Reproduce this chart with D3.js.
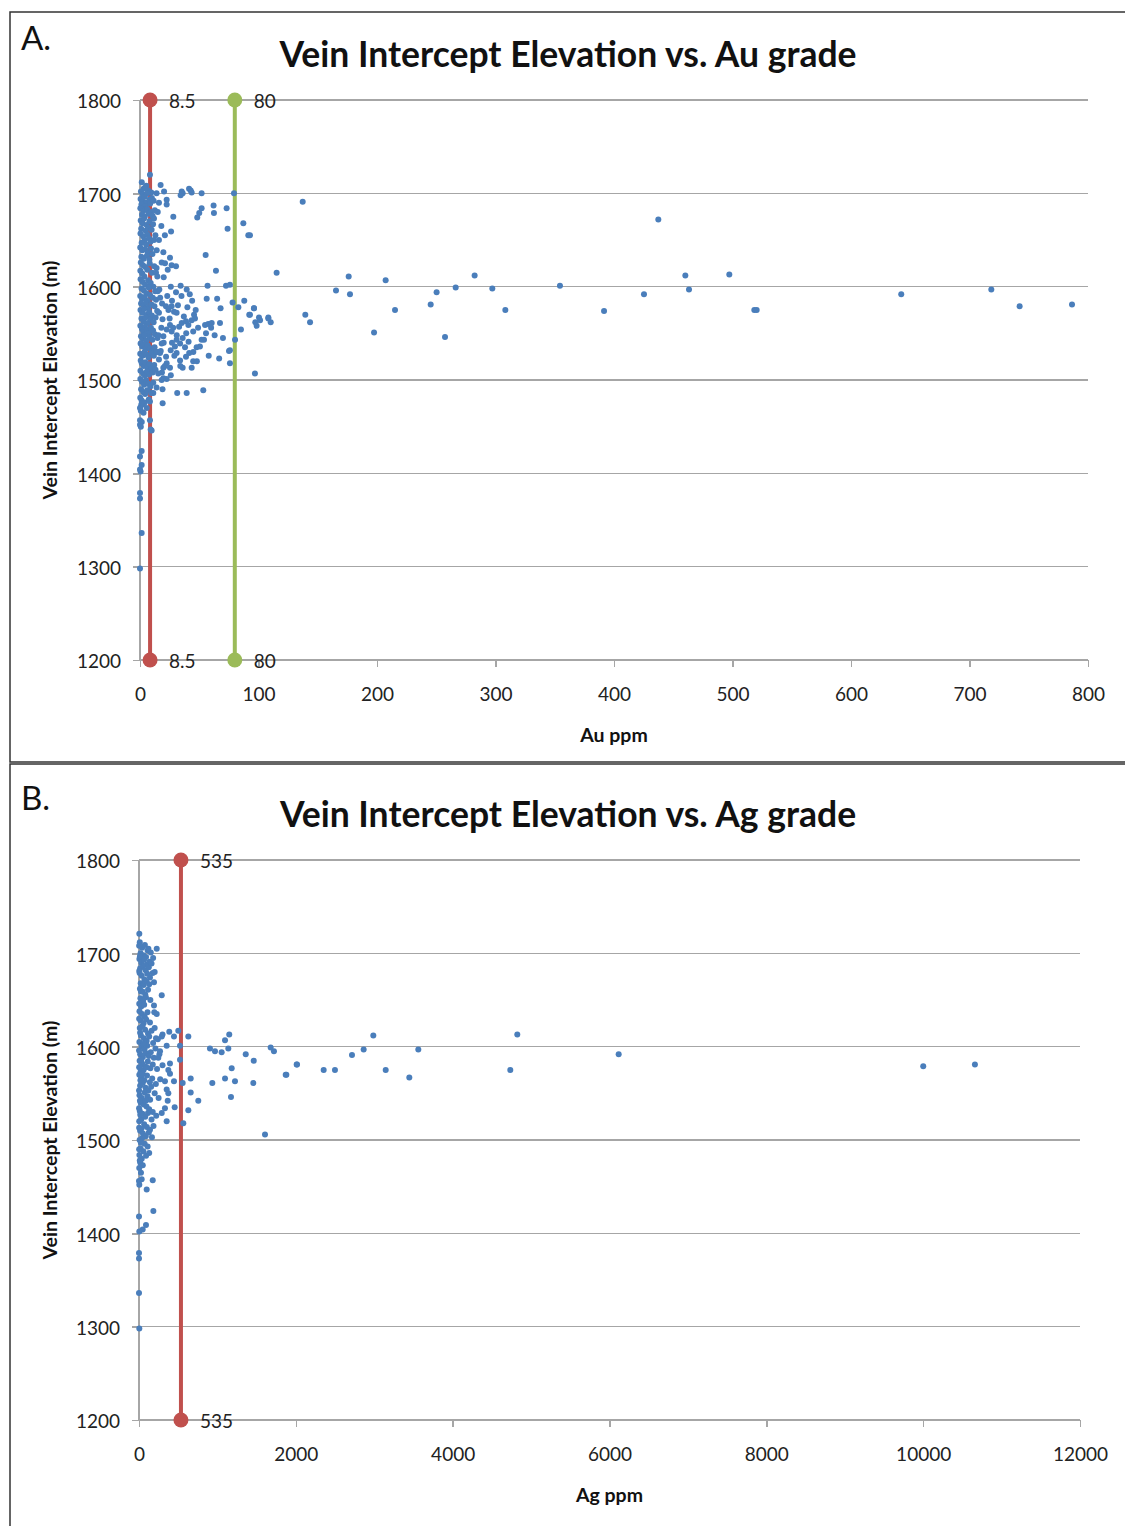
<!doctype html>
<html>
<head>
<meta charset="utf-8">
<title>Vein Intercept Elevation vs. grade</title>
<script src="https://d3js.org/d3.v7.min.js"></script>
<style>
    body {margin:0; background:#fff;}
    svg {display:block; font-family:Lato, "Open Sans", sans-serif;}
    .grid line {stroke:#a6a6a6; stroke-width:1.4px; shape-rendering:crispEdges;}
    .axis path, .axis line {stroke:#a6a6a6; stroke-width:1.4px; fill:none; shape-rendering:crispEdges;}
    .axis text {font-size:19px; fill:#222; font-family:Lato, sans-serif;}
    .dot {fill:#4a7ebb;}
    .title {font-size:35.5px; font-weight:bold; text-anchor:middle; fill:#111;}
    .atitle {font-size:19.5px; font-weight:bold; text-anchor:middle; fill:#111;}
    .panel {font-size:33px; fill:#111;}
    .cut-label {font-size:19px; fill:#222;}
</style>
</head>
<body>
<script>
"use strict";

// tick values
var elevTicks = [1200, 1300, 1400, 1500, 1600, 1700, 1800];
var auTicks = [0, 100, 200, 300, 400, 500, 600, 700, 800];
var agTicks = [0, 2000, 4000, 6000, 8000, 10000, 12000];

// cut-off grades drawn as vertical lines
var auCutoffs = [8.5, 80];
var agCutoffs = [535];

// Au ppm vs elevation (m) - dense low-grade column
var auCore = [
    [1.5,1712],[3,1705],[5.2,1708],[0.8,1702],[7,1703],[2.4,1699],[9.5,1701],[4.1,1697],[6.3,1700],
    [0.5,1694],[2,1691],[3.6,1696],[5,1690],[7.8,1693],[10,1695],[1.2,1688],[4.5,1686],[8.6,1689],[11.5,1692],
    [0.3,1684],[2.8,1681],[6,1683],[9,1680],[1.7,1677],[4,1675],[7.2,1678],[12.5,1682],[10.6,1676],
    [0.6,1671],[2.2,1668],[3.4,1673],[5.6,1666],[8,1670],[11,1667],[1,1662],[4.8,1660],[6.8,1663],[9.8,1661],
    [0.4,1657],[2.6,1654],[3.9,1650],[6.2,1656],[7.6,1652],[13,1655],[1.4,1647],[5.3,1645],[8.8,1648],[11.8,1650],
    [0.2,1642],[2,1639],[4.3,1640],[6.6,1636],[9.3,1641],[10.5,1635],[1.1,1632],[3.1,1630],[5.8,1633],[7.9,1629],
    [0.7,1626],[2.5,1623],[4.6,1621],[8.2,1625],[12,1622],[0.3,1617],[1.9,1614],[3.7,1611],[6.1,1618],[10.2,1615],[14,1620],
    [0.5,1608],[2.3,1605],[4.4,1602],[6.9,1607],[9,1604],[11.3,1600],[1.3,1598],[3.2,1596],[5.5,1593],[7.4,1599],[12.8,1595],
    [0.2,1590],[1.8,1587],[4,1589],[6.4,1585],[8.5,1591],[10.8,1588],[13.5,1586],[0.9,1582],[2.9,1580],[5.1,1583],[7.1,1578],[9.6,1581],[12.2,1579],
    [0.4,1575],[2.1,1572],[3.5,1576],[5.9,1570],[7.7,1573],[10,1569],[14.5,1574],[1.2,1566],[3,1563],[4.7,1567],[6.6,1561],[8.9,1565],[11.5,1562],[13.2,1567],
    [0.3,1558],[1.6,1555],[2.7,1552],[4.2,1557],[6,1554],[7.5,1550],[9.2,1556],[11,1553],[12.6,1549],[0.8,1547],[2.4,1544],[3.9,1548],[5.4,1542],[8.1,1546],[10.4,1543],[14.8,1545],
    [0.5,1539],[1.9,1536],[3.3,1538],[4.9,1533],[6.5,1537],[8.4,1534],[10.1,1531],[12.3,1535],[0.2,1528],[2.2,1526],[3.8,1530],[5.6,1527],[7.2,1524],[9.7,1529],[11.7,1526],[13.8,1530],
    [0.6,1521],[1.5,1518],[3.1,1515],[4.5,1519],[6.3,1514],[8,1517],[9.9,1512],[12,1516],[0.4,1510],[2.6,1507],[4.1,1505],[5.8,1509],[7.6,1506],[10.7,1508],[13.1,1511],
    [0.3,1501],[1.7,1498],[3.4,1495],[5.1,1500],[6.8,1496],[8.7,1493],[11.2,1497],[0.9,1490],[2.8,1487],[4.4,1485],[6,1489],[9.4,1486],
    [0.2,1481],[1.4,1478],[2.6,1474],[4,1476],[5.7,1470],[0.7,1467],[3,1465],[7.4,1479]
];

// Au ppm vs elevation (m) - scattered points
var auScatter = [
    [8.4,1720],[4.2,1706],[17.4,1709],[20.3,1702],[22.5,1693],[22.5,1688],[11.8,1673],[28.1,1675],[26.2,1659],
    [35.2,1702],[36,1700],[34.3,1698],[41.4,1705],[42.8,1703],[43.6,1701],[52,1700],[52,1684],[50,1679],[48.3,1674],
    [62.1,1687],[62.4,1679],[73.1,1684],[79.3,1700],[73.9,1662],[87.2,1668],[91.4,1655],
    [14.1,1639],[19.7,1637],[18.3,1626],[21.1,1625],[25.3,1631],[26.7,1623],[30.4,1622],[23.4,1618],[55.4,1634],[64.1,1617],
    [13.5,1615],[14.6,1611],[16.3,1597],[34.3,1601],[39.4,1597],[30.4,1594],[57,1601],[72.6,1601],[75.9,1602],
    [56.3,1587],[65.1,1587],[78.1,1583],[88,1585],[83,1578],[96.2,1577],[80.2,1543],[92.2,1570],[100.4,1567],
    [108.3,1567],[110.3,1562],[97.3,1562],[18.6,1582],[21.9,1579],[26.7,1579],[28.7,1573],[30.9,1572],
    [45.6,1570],[46.4,1566],[43.6,1564],[35.2,1561],[38.8,1563],[40.8,1559],[25.3,1559],[22.5,1554],[26.7,1552],[44.9,1552],
    [54.9,1559],[57.6,1560],[60.5,1561],[55.7,1550],[54,1543],[50.6,1536],[47.8,1535],
    [30.9,1543],[33.8,1539],[29.5,1536],[25.9,1532],[19.7,1547],[18.3,1539],[16.9,1529],
    [41.5,1529],[44.9,1520],[43.6,1513],[38.8,1525],[33.8,1521],[30.9,1529],[22.5,1518],[25.3,1513],[19.7,1513],[36,1513],
    [66.8,1523],[75.9,1518],[75.1,1531],[15.4,1507],[19.7,1502],[18.3,1500],[22.5,1501],[31.4,1486],[39.4,1486],[53.4,1489],
    [19.1,1475],[11.2,1486],[97,1507],[85.2,1554],[75.9,1532],[67.5,1561],
    [15,1595],[17,1588],[16,1572],[19,1565],[18,1556],[15.5,1548],[20,1540],[17.5,1531],[16,1522],[21,1515],[18.5,1508],
    [23,1590],[24,1575],[27,1585],[25,1566],[28,1556],[31,1548],[33,1557],[36,1545],[29,1526],[34,1515],[38,1535],
    [41,1541],[37,1568],[40,1578],[47,1575],[49,1556],[52,1543],[45,1530],[48,1520],[60,1556],[63,1548],[58,1526],
    [70,1545],[68,1577],[20,1610],[26,1600],[35,1590],[32,1580],[42,1592],[44,1585],[15,1530],[22,1525],[26,1505],
    [14,1492],[19,1490],[27,1540],[39,1550],[16,1650],[18,1665],[15,1680],[21,1655],[14,1700],[16,1690],
    [8.4,1477],[1,1473],[1.5,1475],[0,1470],[8.4,1457],[9,1447],[9.8,1446],[0,1457],[1.5,1455],[0,1452],[0.7,1450],
    [1.4,1424],[0,1418],[1.4,1409],[0,1404],[0.5,1402],[0,1379],[0,1373],[1.4,1336],[0,1298]
];

// Au ppm vs elevation (m) - high-grade tail
var auTail = [
    [92.8,1655],[137.3,1691],[115.3,1615],[96.2,1577],[92.8,1570],[98.4,1558],[101.3,1564],[108.3,1566],
    [139.5,1570],[143.5,1562],[165.4,1596],[176.1,1611],[177.2,1592],[197.5,1551],[207.3,1607],[215.2,1575],
    [245.3,1581],[250.3,1594],[257.4,1546],[266.4,1599],[282.4,1612],[297.3,1598],[308.3,1575],[354.4,1601],
    [391.6,1574],[425.3,1592],[437.4,1672],[460.2,1612],[463.3,1597],[497.3,1613],[518.4,1575],[520.4,1575],
    [642.4,1592],[718.4,1597],[742.3,1579],[786.5,1581]
];

// Ag ppm vs elevation (m) - dense low-grade column
var agCore = [
    [10,1712],[40,1706],[75,1709],[20,1700],[110,1703],[55,1698],[150,1701],[90,1696],
    [5,1694],[30,1690],[65,1693],[100,1688],[135,1691],[180,1695],[15,1684],[50,1686],[85,1682],[125,1685],[160,1689],
    [8,1679],[35,1676],[70,1672],[105,1678],[140,1674],[200,1680],[22,1668],[60,1666],[95,1670],[130,1667],
    [12,1662],[45,1659],[80,1656],[115,1661],[18,1652],[52,1649],[88,1653],[3,1646],[28,1643],[66,1645],[145,1650],
    [6,1638],[38,1635],[72,1632],[108,1637],[20,1628],[58,1625],[92,1629],[140,1626],[10,1620],[44,1622],
    [78,1618],[115,1614],[160,1617],[200,1620],[25,1612],[62,1609],[98,1606],[130,1611],[180,1604],[240,1608],[300,1613],[5,1605],
    [34,1600],[70,1597],[105,1601],[150,1594],[210,1598],[15,1592],[50,1589],[88,1593],[125,1590],[190,1588],[260,1592],
    [8,1585],[40,1582],[76,1579],[112,1584],[145,1577],[175,1581],[230,1576],[20,1573],[58,1575],[96,1578],[300,1580],
    [4,1570],[32,1567],[68,1564],[102,1569],[138,1562],[168,1566],[215,1560],[270,1565],[14,1558],[48,1561],
    [84,1556],[120,1553],[155,1557],[200,1550],[6,1548],[36,1545],[72,1551],[108,1547],[142,1543],[250,1545],[22,1540],[60,1538],
    [96,1536],[130,1533],[175,1530],[10,1531],[44,1528],[80,1525],[115,1529],[160,1522],[220,1526],[3,1520],[28,1522],
    [66,1517],[100,1514],[140,1511],[185,1515],[14,1510],[50,1507],[86,1504],[125,1508],[8,1500],[38,1502],[165,1503],
    [72,1496],[110,1493],[20,1491],[55,1488],[5,1484],[35,1480],[90,1483],[15,1476],[48,1473],[3,1470],[130,1486],[25,1465],
    [2,1708],[12,1697],[3,1681],[25,1659],[2,1630],[14,1615],[1,1596],[28,1586],[2,1578],[18,1564],[1,1553],[12,1542],
    [1,1534],[16,1527],[2,1513],[24,1497],[2,1490],[10,1478],[60,1603],[45,1571],[85,1542],[30,1512],[195,1637],[120,1705]
];

// Ag ppm vs elevation (m) - scattered points
var agScatter = [
    [4,1721],[226,1705],[175,1679],[191,1669],[290,1655],[191,1644],[226,1635],
    [386,1616],[446,1611],[501,1617],[629,1611],[217,1609],[290,1611],[353,1601],[523,1601],
    [268,1595],[246,1588],[523,1586],[905,1598],[969,1595],[1054,1594],[1139,1598],[1097,1607],[1151,1613],
    [1361,1592],[1463,1585],[1679,1599],[1721,1595],[2011,1581],[1871,1570],[1182,1577],[1097,1566],[1224,1563],
    [1458,1561],[935,1561],[659,1566],[557,1561],[446,1563],[659,1551],[756,1542],[629,1532],[565,1518],
    [455,1535],[1173,1546],[1607,1506],[395,1582],[374,1575],[395,1571],[331,1563],[353,1554],[374,1550],
    [366,1542],[331,1534],[290,1529],[353,1520],
    [0,1456],[34,1458],[4,1452],[175,1457],[98,1447],[183,1424],[0,1418],[89,1409],[47,1404],[4,1402],
    [0,1379],[0,1373],[0,1336],[4,1298]
];

// Ag ppm vs elevation (m) - high-grade tail
var agTail = [
    [1879,1570],[2015,1581],[2355,1575],[2499,1575],[2716,1591],[2865,1597],[2988,1612],[3146,1575],
    [3447,1567],[3562,1597],[4735,1575],[4824,1613],[6117,1592],[10001,1579],[10660,1581]
];

var W = 1125, H = 1526;
var cutColors = ["#c0504d", "#9bbb59"];

var svg = d3.select("body").append("svg")
    .attr("width", W)
    .attr("height", H);

// panel frames
svg.append("rect").attr("x", 10).attr("y", 12).attr("width", 1130).attr("height", 750)
    .attr("fill", "none").attr("stroke", "#333").attr("stroke-width", 1.5);
svg.append("rect").attr("x", 10).attr("y", 764).attr("width", 1130).attr("height", 780)
    .attr("fill", "none").attr("stroke", "#333").attr("stroke-width", 1.5);

function drawPanel(opt) {
    var g = svg.append("g");
    var x = d3.scaleLinear().domain([opt.xTicks[0], opt.xTicks[opt.xTicks.length - 1]]).range([opt.left, opt.right]);
    var y = d3.scaleLinear().domain([1200, 1800]).range([opt.bottom, opt.top]);

    g.append("text").attr("class", "panel").attr("x", 21).attr("y", opt.top - 50).text(opt.letter);
    g.append("text").attr("class", "title").attr("x", 568).attr("y", opt.top - 33).text(opt.title);

    // horizontal gridlines
    g.append("g").attr("class", "grid")
        .selectAll("line").data(elevTicks.slice(1)).enter().append("line")
        .attr("x1", opt.left).attr("x2", opt.right)
        .attr("y1", function(d) { return y(d); })
        .attr("y2", function(d) { return y(d); });

    var yAxis = g.append("g").attr("class", "axis")
        .attr("transform", "translate(" + opt.left + ",0)")
        .call(d3.axisLeft(y).tickValues(elevTicks).tickSize(7).tickPadding(12).tickFormat(d3.format("d")));
    yAxis.selectAll(".tick text").attr("dy", "0.42em");

    var xAxis = g.append("g").attr("class", "axis")
        .attr("transform", "translate(0," + opt.bottom + ")")
        .call(d3.axisBottom(x).tickValues(opt.xTicks).tickSize(7).tickPadding(21).tickFormat(d3.format("d")));
    xAxis.select(".domain").attr("d", "M" + opt.left + ",0H" + opt.right);
    yAxis.select(".domain").attr("d", "M0," + opt.top + "V" + opt.bottom);

    g.append("text").attr("class", "atitle")
        .attr("x", (opt.left + opt.right) / 2).attr("y", opt.bottom + 82).text(opt.xLabel);
    g.append("text").attr("class", "atitle")
        .attr("transform", "translate(57," + (opt.top + opt.bottom) / 2 + ") rotate(-90)")
        .text("Vein Intercept Elevation (m)");

    // cut-off lines
    opt.cutoffs.forEach(function(c, i) {
        var cx = x(c), col = cutColors[i];
        g.append("line").attr("x1", cx).attr("x2", cx).attr("y1", y(1800)).attr("y2", y(1200))
            .attr("stroke", col).attr("stroke-width", 4);
        [1800, 1200].forEach(function(e) {
            g.append("circle").attr("cx", cx).attr("cy", y(e)).attr("r", 7.5).attr("fill", col);
            g.append("text").attr("class", "cut-label").attr("x", cx + 19).attr("y", y(e))
                .attr("dy", "0.42em").text(String(c));
        });
    });

    // points
    var pts = opt.series.reduce(function(a, s) { return a.concat(s); }, []);
    g.append("g").selectAll("circle").data(pts).enter().append("circle")
        .attr("class", "dot")
        .attr("r", 3)
        .attr("cx", function(d) { return x(d[0]); })
        .attr("cy", function(d) { return y(d[1]); });
}

drawPanel({
    letter: "A.", title: "Vein Intercept Elevation vs. Au grade", xLabel: "Au ppm",
    xTicks: auTicks, cutoffs: auCutoffs, series: [auCore, auScatter, auTail],
    left: 140, right: 1088, top: 100, bottom: 660
});

drawPanel({
    letter: "B.", title: "Vein Intercept Elevation vs. Ag grade", xLabel: "Ag ppm",
    xTicks: agTicks, cutoffs: agCutoffs, series: [agCore, agScatter, agTail],
    left: 139, right: 1080, top: 860, bottom: 1420
});
</script>
</body>
</html>
